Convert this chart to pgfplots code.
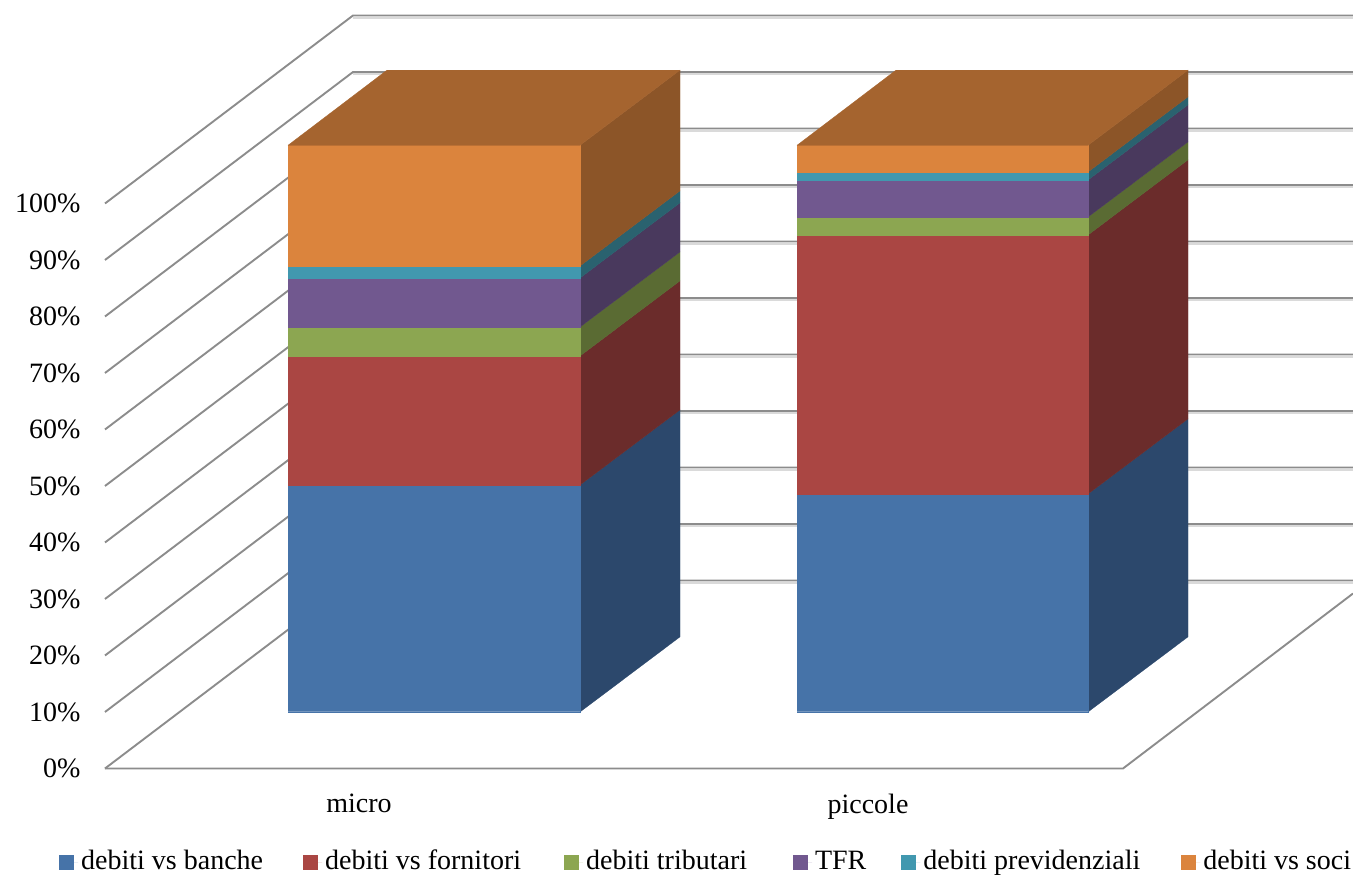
\documentclass[border=0pt]{standalone}
\usepackage{fontspec}
\setmainfont{Liberation Serif}
\usepackage{pgfplots}
\pgfplotsset{compat=1.18}

\definecolor{bluef}{HTML}{4673A8}\definecolor{blues}{HTML}{2C486C}
\definecolor{redf}{HTML}{AA4643}\definecolor{reds}{HTML}{6B2C2B}
\definecolor{greenf}{HTML}{8CA651}\definecolor{greens}{HTML}{5A6B33}
\definecolor{purplef}{HTML}{71588F}\definecolor{purples}{HTML}{49395D}
\definecolor{tealf}{HTML}{4198AF}\definecolor{teals}{HTML}{2A626F}
\definecolor{orangef}{HTML}{DB843D}\definecolor{oranges}{HTML}{8C5528}
\definecolor{topc}{HTML}{A5642F}
\definecolor{gridc}{HTML}{8C8C8C}
\definecolor{gridl}{HTML}{DADADA}

\pgfplotsset{face/.style={forget plot, no markers, fill=#1, draw=#1, line width=0.3pt}}

\begin{document}
\begin{tikzpicture}
\path[use as bounding box] (-105pt,-106.5pt) rectangle (1248pt,768.5pt);
\begin{axis}[
    scale only axis,
    width=1248pt,
    height=753.145pt,
    xmin=0, xmax=1248,
    ymin=0, ymax=133.3,
    clip=false,
    axis line style={draw=none},
    tick style={draw=none},
    xtick={254,763},
    xticklabels={micro,piccole},
    ytick={0,10,...,100},
    yticklabel={\pgfmathprintnumber{\tick}\%},
    /pgf/number format/assume math mode=true,
    tick label style={font=\fontsize{28}{32}\selectfont},
    y tick label style={xshift=-21pt},
    x tick label style={yshift=-22pt},
    unbounded coords=jump,
    legend columns=6,
    legend cell align=left,
    legend style={
        at={(axis cs:-46,-16.55)}, anchor=west,
        draw=none, fill=none, inner sep=0pt,
        font=\fontsize{28}{32}\selectfont,
        /tikz/column 2/.style={column sep=37pt},
        /tikz/column 4/.style={column sep=40pt},
        /tikz/column 6/.style={column sep=43pt},
        /tikz/column 8/.style={column sep=32pt},
        /tikz/column 10/.style={column sep=38pt},
        nodes={inner sep=3pt, text height=21pt, text depth=6pt},
    },
    legend image code/.code={\path (0pt,0pt) -- (19pt,0pt);\path[#1] (0pt,-7.5pt) rectangle (15pt,7.5pt);},
]
% back wall and left wall, light shadow first
\addplot[forget plot, no markers, color=gridl, line width=1.8pt] coordinates {
    (248,32.85)(1248,32.85)(nan,nan)
    (248,42.85)(1248,42.85)(nan,nan)
    (248,52.85)(1248,52.85)(nan,nan)
    (248,62.85)(1248,62.85)(nan,nan)
    (248,72.85)(1248,72.85)(nan,nan)
    (248,82.85)(1248,82.85)(nan,nan)
    (248,92.85)(1248,92.85)(nan,nan)
    (248,102.85)(1248,102.85)(nan,nan)
    (248,112.85)(1248,112.85)(nan,nan)
    (248,122.85)(1248,122.85)(nan,nan)
    (248,132.85)(1248,132.85)
};
\addplot[forget plot, no markers, color=gridc, line width=1.9pt] coordinates {
    (0,0)(248,33.27)(1248,33.27)(nan,nan)
    (0,10)(248,43.27)(1248,43.27)(nan,nan)
    (0,20)(248,53.27)(1248,53.27)(nan,nan)
    (0,30)(248,63.27)(1248,63.27)(nan,nan)
    (0,40)(248,73.27)(1248,73.27)(nan,nan)
    (0,50)(248,83.27)(1248,83.27)(nan,nan)
    (0,60)(248,93.27)(1248,93.27)(nan,nan)
    (0,70)(248,103.27)(1248,103.27)(nan,nan)
    (0,80)(248,113.27)(1248,113.27)(nan,nan)
    (0,90)(248,123.27)(1248,123.27)(nan,nan)
    (0,100)(248,133.27)(1248,133.27)
};
% floor edge
\addplot[forget plot, no markers, color=gridc, line width=1.9pt] coordinates {
    (0,0)(1018,0)(1248,30.97)
};

% micro: side faces
\addplot[face=blues] coordinates {(475,10)(575,23.3)(575,63.48)(475,50.18)(475,10)};
\addplot[face=reds] coordinates {(475,50.18)(575,63.48)(575,86.31)(475,73.01)(475,50.18)};
\addplot[face=greens] coordinates {(475,73.01)(575,86.31)(575,91.44)(475,78.14)(475,73.01)};
\addplot[face=purples] coordinates {(475,78.14)(575,91.44)(575,100.12)(475,86.82)(475,78.14)};
\addplot[face=teals] coordinates {(475,86.82)(575,100.12)(575,102.24)(475,88.94)(475,86.82)};
\addplot[face=oranges] coordinates {(475,88.94)(575,102.24)(575,123.6)(475,110.3)(475,88.94)};
% micro: front faces
\addplot[face=bluef] coordinates {(183,10)(475,10)(475,50.18)(183,50.18)(183,10)};
\addplot[face=redf] coordinates {(183,50.18)(475,50.18)(475,73.01)(183,73.01)(183,50.18)};
\addplot[face=greenf] coordinates {(183,73.01)(475,73.01)(475,78.14)(183,78.14)(183,73.01)};
\addplot[face=purplef] coordinates {(183,78.14)(475,78.14)(475,86.82)(183,86.82)(183,78.14)};
\addplot[face=tealf] coordinates {(183,86.82)(475,86.82)(475,88.94)(183,88.94)(183,86.82)};
\addplot[face=orangef] coordinates {(183,88.94)(475,88.94)(475,110.3)(183,110.3)(183,88.94)};
% micro: top
\addplot[face=topc] coordinates {(183,110.3)(475,110.3)(575,123.6)(282,123.6)(183,110.3)};
\addplot[forget plot, no markers, color=bluef!75!white, line width=1pt] coordinates {(183,10.05)(475,10.05)};

% piccole: side faces
\addplot[face=blues] coordinates {(983,10)(1083,23.3)(1083,61.89)(983,48.59)(983,10)};
\addplot[face=reds] coordinates {(983,48.59)(1083,61.89)(1083,107.73)(983,94.43)(983,48.59)};
\addplot[face=greens] coordinates {(983,94.43)(1083,107.73)(1083,110.91)(983,97.61)(983,94.43)};
\addplot[face=purples] coordinates {(983,97.61)(1083,110.91)(1083,117.46)(983,104.16)(983,97.61)};
\addplot[face=teals] coordinates {(983,104.16)(1083,117.46)(1083,118.88)(983,105.58)(983,104.16)};
\addplot[face=oranges] coordinates {(983,105.58)(1083,118.88)(1083,123.6)(983,110.3)(983,105.58)};
% piccole: front faces
\addplot[face=bluef] coordinates {(692,10)(983,10)(983,48.59)(692,48.59)(692,10)};
\addplot[face=redf] coordinates {(692,48.59)(983,48.59)(983,94.43)(692,94.43)(692,48.59)};
\addplot[face=greenf] coordinates {(692,94.43)(983,94.43)(983,97.61)(692,97.61)(692,94.43)};
\addplot[face=purplef] coordinates {(692,97.61)(983,97.61)(983,104.16)(692,104.16)(692,97.61)};
\addplot[face=tealf] coordinates {(692,104.16)(983,104.16)(983,105.58)(692,105.58)(692,104.16)};
\addplot[face=orangef] coordinates {(692,105.58)(983,105.58)(983,110.3)(692,110.3)(692,105.58)};
% piccole: top
\addplot[face=topc] coordinates {(692,110.3)(983,110.3)(1083,123.6)(791,123.6)(692,110.3)};
\addplot[forget plot, no markers, color=bluef!75!white, line width=1pt] coordinates {(692,10.05)(983,10.05)};

\addlegendimage{fill=bluef,draw=none}
\addlegendentry{debiti vs banche}
\addlegendimage{fill=redf,draw=none}
\addlegendentry{debiti vs fornitori}
\addlegendimage{fill=greenf,draw=none}
\addlegendentry{debiti tributari}
\addlegendimage{fill=purplef,draw=none}
\addlegendentry{TFR}
\addlegendimage{fill=tealf,draw=none}
\addlegendentry{debiti previdenziali}
\addlegendimage{fill=orangef,draw=none}
\addlegendentry{debiti vs soci}
\end{axis}
\end{tikzpicture}
\end{document}
